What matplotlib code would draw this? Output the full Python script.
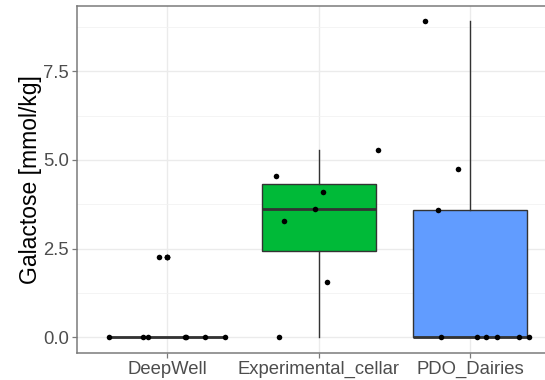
import numpy as np
import matplotlib
matplotlib.use("Agg")
import matplotlib.pyplot as plt
from matplotlib.ticker import FixedLocator

plt.rcParams["font.family"] = ["Liberation Sans", "DejaVu Sans"]

groups = ["DeepWell", "Experimental_cellar", "PDO_Dairies"]
deepwell = [0, 0, 0, 0, 0, 0, 0, 2.26, 2.26]
deepwell_jitter = [-0.387, -0.16, -0.13, 0.12, 0.25, 0.378, 0.118, -0.057, 0.0]
cellar = [0, 1.56, 3.29, 3.62, 4.09, 4.56, 5.28]
cellar_jitter = [-0.26, 0.055, -0.23, -0.025, 0.026, -0.28, 0.39]
dairies = [0, 0, 0, 0, 0, 0, 3.58, 4.74, 8.9]
dairies_jitter = [-0.195, 0.045, 0.106, 0.18, 0.325, 0.387, -0.21, -0.08, -0.30]
fills = ["#F8766D", "#00BA38", "#619CFF"]

values = [deepwell, cellar, dairies]
jitters = [deepwell_jitter, cellar_jitter, dairies_jitter]

fig = plt.figure(figsize=(5.45, 3.8), dpi=100)
ax = fig.add_axes([0.1407, 0.0703, 0.8593, 0.915])

dark = "#333333"
frame = "#7A7A7A"
bp = ax.boxplot(values, positions=[1, 2, 3], widths=0.75, patch_artist=True,
                whis=1.5, capwidths=0,
                boxprops=dict(edgecolor=dark, linewidth=1.0),
                whiskerprops=dict(color=dark, linewidth=1.0),
                capprops=dict(linewidth=0),
                medianprops=dict(color=dark, linewidth=2.0),
                flierprops=dict(marker="o", markerfacecolor="black",
                                markeredgewidth=0, markersize=4.0))
for patch, c in zip(bp["boxes"], fills):
    patch.set_facecolor(c)
for i, (v, j) in enumerate(zip(values, jitters)):
    ax.scatter(np.array(j) + i + 1, v, s=16, color="black", zorder=4,
               linewidths=0)

ax.set_xlim(0.4, 3.495)
ax.set_ylim(-0.445, 9.345)
ax.set_xticks([1, 2, 3])
ax.set_xticklabels(groups)
ax.set_yticks([0, 2.5, 5, 7.5])
ax.set_yticklabels(["0.0", "2.5", "5.0", "7.5"])
ax.yaxis.set_minor_locator(FixedLocator([1.25, 3.75, 6.25, 8.75]))
ax.tick_params(axis="both", which="major", length=3.5, width=0.9, color=frame,
               labelsize=13.3, labelcolor="#4D4D4D", pad=2)
ax.tick_params(axis="y", which="minor", length=0)
ax.grid(True, which="major", color="#EBEBEB", linewidth=1.0)
ax.grid(True, which="minor", axis="y", color="#F2F2F2", linewidth=0.6)
ax.set_axisbelow(True)
for s in ax.spines.values():
    s.set_color(frame)
    s.set_linewidth(1.1)
# the reference is cropped before the right border
ax.spines["right"].set_visible(False)
ax.set_ylabel("Galactose [mmol/kg]", fontsize=16.5, labelpad=1)

fig.savefig("out.png", dpi=100)
